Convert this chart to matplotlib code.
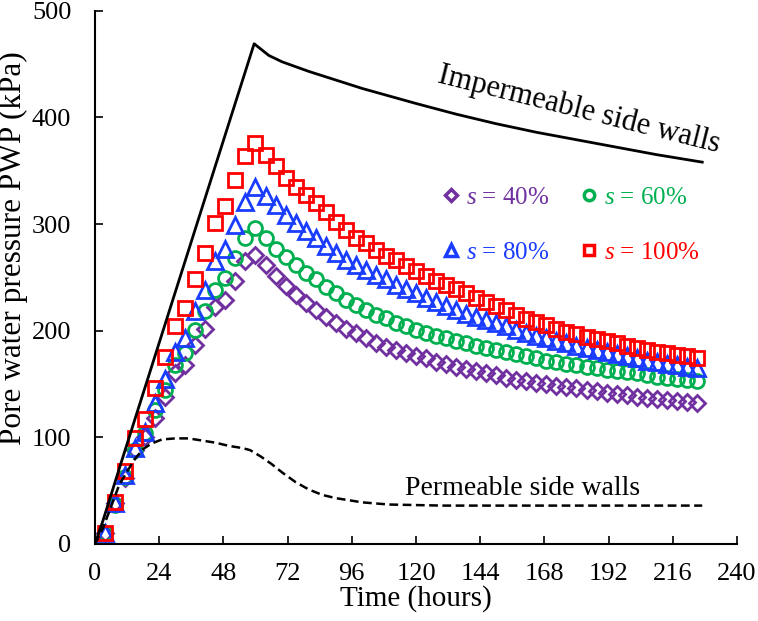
import matplotlib
matplotlib.use("Agg")
import matplotlib.pyplot as plt
from matplotlib.lines import Line2D

plt.rcParams['font.family'] = ['Liberation Serif', 'DejaVu Serif']
plt.rcParams['mathtext.fontset'] = 'custom'
plt.rcParams['mathtext.rm'] = 'Liberation Serif'
plt.rcParams['mathtext.it'] = 'Liberation Serif:italic'

# temps des mesures (heures)
temps = [3.75, 7.5, 11.25, 15, 18.75, 22.5, 26.25, 30, 33.75, 37.5,
         41.25, 45, 48.75, 52.5, 56.25, 60, 63.75, 67.5, 71.25, 75,
         78.75, 82.5, 86.25, 90, 93.75, 97.5, 101.25, 105, 108.75, 112.5,
         116.25, 120, 123.75, 127.5, 131.25, 135, 138.75, 142.5, 146.25, 150,
         153.75, 157.5, 161.25, 165, 168.75, 172.5, 176.25, 180, 183.75, 187.5,
         191.25, 195, 198.75, 202.5, 206.25, 210, 213.75, 217.5, 221.25, 225]

s40 = [10, 38, 62, 88, 100, 118, 138, 160, 168, 187,
       202, 222, 229, 247, 265, 271, 262, 251, 242, 233,
       226, 219, 213, 207, 202, 198, 193, 188, 185, 182,
       179, 176, 174, 171, 169, 166, 164, 162, 160, 158,
       156, 154, 153, 151, 150, 148, 147, 146, 144, 143,
       142, 141, 140, 138, 137, 136, 135, 134, 133, 132]
s60 = [10, 37, 63, 88, 104, 126, 144, 168, 179, 201,
       218, 238, 249, 268, 287, 296, 287, 277, 269, 262,
       254, 248, 241, 235, 229, 224, 219, 215, 212, 207,
       204, 201, 198, 195, 193, 190, 188, 186, 184, 182,
       180, 178, 176, 174, 172, 171, 169, 168, 166, 165,
       163, 162, 161, 160, 158, 157, 156, 155, 154, 153]
s80 = [10, 38, 65, 90, 105, 132, 155, 180, 193, 218,
       238, 265, 277, 299, 321, 335, 326, 318, 308, 301,
       293, 287, 279, 273, 266, 262, 257, 252, 248, 243,
       239, 235, 231, 227, 223, 219, 216, 213, 210, 207,
       204, 201, 198, 195, 193, 190, 188, 186, 184, 182,
       180, 178, 176, 174, 172, 171, 169, 168, 166, 165]
s100 = [10, 39, 68, 99, 117, 146, 175, 204, 221, 248,
        273, 301, 317, 341, 364, 376, 365, 354, 343, 335,
        327, 320, 311, 302, 294, 287, 282, 276, 270, 266,
        261, 256, 251, 247, 243, 239, 235, 231, 227, 223,
        219, 215, 211, 208, 205, 202, 199, 197, 194, 192,
        190, 188, 186, 184, 182, 180, 179, 177, 176, 174]

# parois imperméables
t_imp = [0, 3, 10, 20, 30, 40, 50, 59.5, 65, 70, 80, 90, 100, 110,
         120, 135, 150, 165, 180, 195, 210, 227]
pwp_imp = [0, 22, 78, 157, 236, 315, 394, 469, 458, 452, 443, 435, 427, 420,
           413, 403, 394, 386, 379, 372, 365, 358]

# parois perméables
t_perm = [0, 3, 6, 9, 12, 15, 18, 21, 25, 30, 35, 40, 45, 50, 55, 58, 62, 66,
          70, 75, 80, 85, 90, 95, 100, 110, 130, 160, 200, 227]
pwp_perm = [0, 15, 35, 55, 68, 80, 89, 94, 98, 99, 99, 97, 95, 92, 90, 88, 82, 75,
            67, 58, 51, 46, 43, 41, 39, 37, 36, 36, 36, 36]

labels = ['40%', '60%', '80%', '100%']
couleurs = ['#7030A0', '#00B050', '#1A3CFF', '#FF0000']
marqueurs = ['D', 'o', '^', 's']
tailles = [8.5, 10, 11.5, 10]

fig = plt.figure(figsize=(7.58, 6.21), dpi=100)
ax = fig.add_axes([0.1253, 0.124, 0.847, 0.8588])

ax.plot(t_imp, pwp_imp, color='black', lw=2.0, zorder=5)
ax.plot(t_perm, pwp_perm, color='black', lw=1.8, ls=(0, (3.5, 1.8)), zorder=5)

handles = []
for serie, lab, c, m, ms in zip([s40, s60, s80, s100], labels, couleurs, marqueurs, tailles):
    ax.plot(temps, serie, ls='none', marker=m, ms=ms, mfc='none', mec=c, mew=2.0)
    handles.append(Line2D([], [], ls='none', marker=m, ms=ms * 0.75, mfc='none',
                          mec=c, mew=2.5, label='$s$ = ' + lab))

# ordre colonne par colonne : 40 / 80 puis 60 / 100
ordre = [handles[0], handles[2], handles[1], handles[3]]
leg = ax.legend(ordre, [h.get_label() for h in ordre],
                ncol=2, frameon=False, fontsize=18, handlelength=0.6, handletextpad=0.3,
                columnspacing=1.3, labelspacing=1.3, borderpad=0,
                loc='center', bbox_to_anchor=(0.742, 0.598))
for txt, h in zip(leg.get_texts(), ordre):
    txt.set_color(h.get_markeredgecolor())

ax.text(181, 407, 'Impermeable side walls', fontsize=22, rotation=-14,
        ha='center', va='center', rotation_mode='anchor')
ax.text(160, 52, 'Permeable side walls', fontsize=20, ha='center', va='center')

ax.set_xlim(0, 240)
ax.set_ylim(0, 500)
ax.set_xticks(range(0, 241, 24))
ax.set_yticks(range(0, 501, 100))
ax.tick_params(direction='in', labelsize=19, length=5.5, width=1.2)
ax.tick_params(axis='x', pad=14)
ax.tick_params(axis='y', pad=17)
ax.spines['top'].set_visible(False)
ax.spines['right'].set_visible(False)
ax.spines['left'].set_linewidth(1.5)
ax.spines['bottom'].set_linewidth(1.5)
ax.set_xlabel('Time (hours)', fontsize=21, labelpad=0)
ax.set_ylabel('Pore water pressure PWP (kPa)', fontsize=22.5)
ax.yaxis.set_label_coords(-0.104, 0.555)

fig.savefig('out.png', dpi=100)
